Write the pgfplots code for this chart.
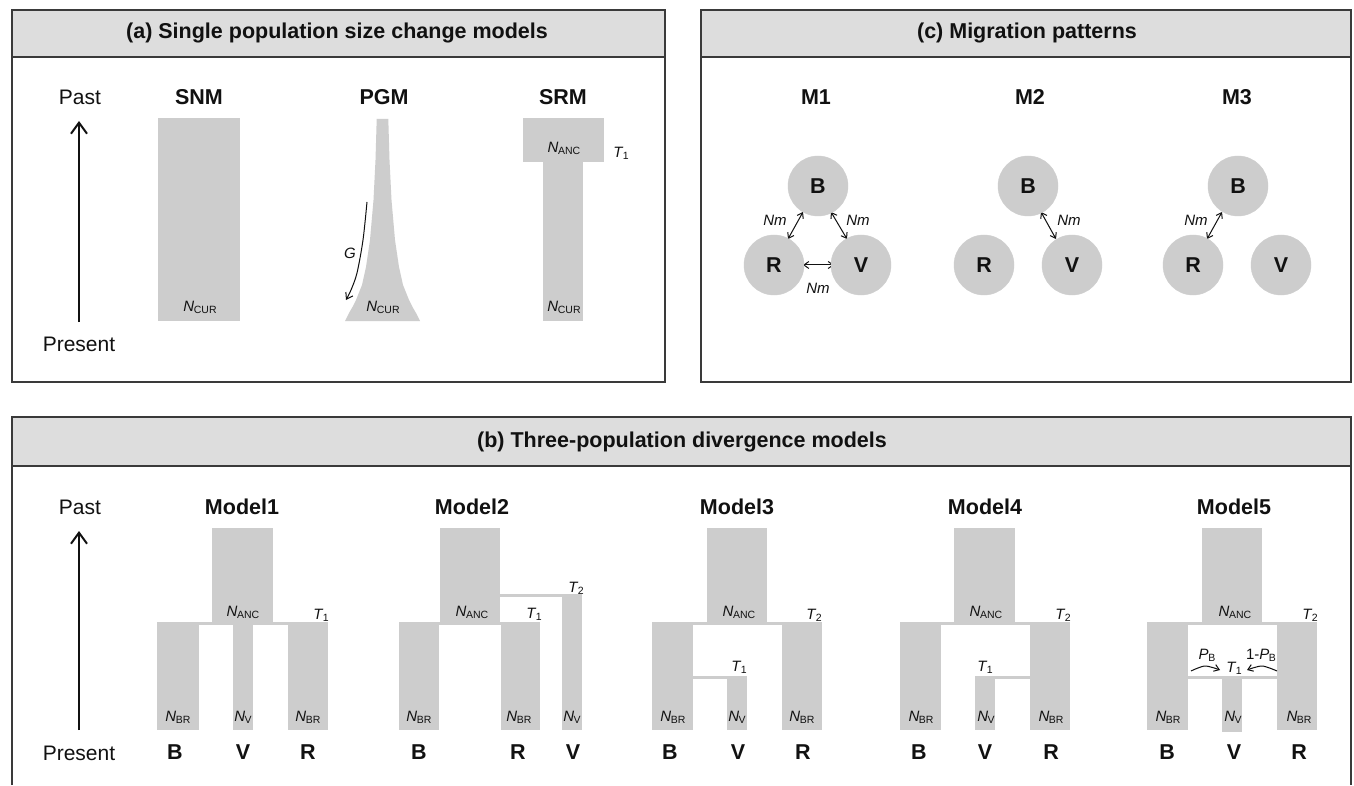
\documentclass[border=0pt]{standalone}
\usepackage{pgfplots}
\pgfplotsset{compat=1.18}
\usepackage{fontspec}
\setmainfont{Liberation Sans}
\usetikzlibrary{arrows.meta}

\definecolor{hdrgray}{HTML}{DDDDDD}
\definecolor{popgray}{HTML}{CDCDCD}
\definecolor{framecol}{HTML}{3A3A3A}
\definecolor{ink}{HTML}{111111}

\tikzset{
  hdr/.style={font=\fontsize{21.5}{21.5}\selectfont\bfseries, text=ink},
  big/.style={font=\fontsize{21}{21}\selectfont, text=ink},
  bigb/.style={font=\fontsize{21.5}{21.5}\selectfont\bfseries, text=ink},
  lab/.style={font=\fontsize{15}{15}\selectfont, text=ink, inner sep=0pt},
}
\pgfplotsset{mig/.style={{Straight Barb[length=5pt,width=7pt]}-{Straight Barb[length=5pt,width=7pt]}, line width=1pt, ink}}

% italic symbol with a small upright subscript
\newcommand{\Ns}[2]{\textit{#1}\kern-0.4pt\raisebox{-1.8pt}{\fontsize{10.5}{10.5}\selectfont #2}}
% one grey block of a population
\newcommand{\blk}[4]{\addplot[fill=popgray, draw=none] coordinates {(#1,#2) (#3,#2) (#3,#4) (#1,#4)} --cycle;}

\begin{document}
\begin{tikzpicture}
\begin{axis}[
  width=1354pt, height=784pt, scale only axis,
  xmin=0, xmax=1354, ymin=0, ymax=784, y dir=reverse,
  hide axis, clip=false,
]
% page background
\addplot[fill=white, draw=none] coordinates {(0,0) (1354,0) (1354,784) (0,784)} --cycle;

% ---------- panel frames and header bands ----------
\addplot[fill=hdrgray, draw=none] coordinates {(12,10) (665,10) (665,57) (12,57)} --cycle;
\addplot[fill=hdrgray, draw=none] coordinates {(701,10) (1351,10) (1351,57) (701,57)} --cycle;
\addplot[fill=hdrgray, draw=none] coordinates {(12,417) (1351,417) (1351,466) (12,466)} --cycle;
\addplot[draw=framecol, line width=1.5pt] coordinates {(12,10) (665,10) (665,382) (12,382)} --cycle;
\addplot[draw=framecol, line width=1.5pt] coordinates {(12,57) (665,57)};
\addplot[draw=framecol, line width=1.5pt] coordinates {(701,10) (1351,10) (1351,382) (701,382)} --cycle;
\addplot[draw=framecol, line width=1.5pt] coordinates {(701,57) (1351,57)};
\addplot[draw=framecol, line width=1.5pt] coordinates {(12,785) (12,417) (1351,417) (1351,785)};
\addplot[draw=framecol, line width=1.5pt] coordinates {(12,466) (1351,466)};

\node[hdr] at (337,33) {(a) Single population size change models};
\node[hdr] at (1027,33) {(c) Migration patterns};
\node[hdr] at (682,442) {(b) Three-population divergence models};

% ---------- (a) single population models ----------
\addplot[-{Straight Barb[length=11pt,width=16pt]}, line width=2pt, ink] coordinates {(79,322) (79,121)};
\node[big] at (80,97) {Past};
\node[big] at (79,344) {Present};

\node[bigb] at (199,97) {SNM};
\node[bigb] at (384,97) {PGM};
\node[bigb] at (563,97) {SRM};

% SNM
\blk{158}{118}{240}{321}
% PGM: exponential growth towards the present
\addplot[fill=popgray, draw=none] coordinates {
  (376.7,119) (375.5,160) (373.5,200) (370,240) (366,267) (362,285)
  (356,300) (352.5,307) (349,313) (347,317) (345,321)
  (420,321) (418,317) (416,313) (412.5,307) (409,300) (403,285)
  (399,267) (395,240) (391.5,200) (389.5,160) (388.3,119)} --cycle;
% SRM
\blk{523}{118}{604}{162}
\blk{543}{161}{583}{321}

\addplot[-{Straight Barb[length=6pt,width=8pt]}, line width=1pt, ink, smooth]
  coordinates {(367,202) (363,240) (357,273) (351,290) (346,300)};
\node[lab] at (350,253) {\textit{G}};

\node[lab] at (200,307) {\Ns{N}{CUR}};
\node[lab] at (383,307) {\Ns{N}{CUR}};
\node[lab] at (564,307) {\Ns{N}{CUR}};
\node[lab] at (564,148) {\Ns{N}{ANC}};
\node[lab] at (621,153) {\Ns{T}{1}};

% ---------- (c) migration patterns ----------
\node[bigb] at (816,97) {M1};
\node[bigb] at (1030,97) {M2};
\node[bigb] at (1237,97) {M3};

\addplot[popgray, only marks, mark=*, mark size=30pt,
  mark options={fill=popgray, draw=popgray},
  point meta=explicit symbolic, nodes near coords,
  every node near coord/.append style={bigb, anchor=center}]
  coordinates {(818,186) [B] (774,265) [R] (861,265) [V]
               (1028,186) [B] (984,265) [R] (1072,265) [V]
               (1238,186) [B] (1193,265) [R] (1281,265) [V]};

\addplot[mig] coordinates {(803,212) (788,239)};
\addplot[mig] coordinates {(831,212) (847,239)};
\addplot[mig] coordinates {(803,265) (834,265)};
\addplot[mig] coordinates {(1041,212) (1056,239)};
\addplot[mig] coordinates {(1222,212) (1207,239)};

\node[lab] at (775,220) {\textit{Nm}};
\node[lab] at (858,220) {\textit{Nm}};
\node[lab] at (818,288) {\textit{Nm}};
\node[lab] at (1069,220) {\textit{Nm}};
\node[lab] at (1196,220) {\textit{Nm}};

% ---------- (b) three-population divergence models ----------
\addplot[-{Straight Barb[length=11pt,width=16pt]}, line width=2pt, ink] coordinates {(79,730) (79,531)};
\node[big] at (80,507) {Past};
\node[big] at (79,753) {Present};

\node[bigb] at (242,507) {Model1};
\node[bigb] at (472,507) {Model2};
\node[bigb] at (737,507) {Model3};
\node[bigb] at (985,507) {Model4};
\node[bigb] at (1234,507) {Model5};

% Model1: simultaneous split
\blk{212}{528}{273}{625}
\blk{157}{622}{328}{625}
\blk{157}{622}{199}{730}
\blk{233}{622}{253}{730}
\blk{288}{622}{328}{730}
% Model2: V splits first
\blk{440}{528}{500}{625}
\blk{399}{622}{540}{625}
\blk{399}{622}{439}{730}
\blk{501}{622}{540}{730}
\blk{499}{594}{582}{597}
\blk{562}{594}{582}{730}
% Model3: V from B
\blk{707}{528}{767}{625}
\blk{652}{622}{822}{625}
\blk{652}{622}{693}{730}
\blk{782}{622}{822}{730}
\blk{692}{676}{747}{679}
\blk{727}{676}{747}{730}
% Model4: V from R
\blk{954}{528}{1015}{625}
\blk{900}{622}{1070}{625}
\blk{900}{622}{941}{730}
\blk{1030}{622}{1070}{730}
\blk{975}{676}{1031}{679}
\blk{975}{676}{995}{730}
% Model5: V from admixture of B and R
\blk{1202}{528}{1262}{625}
\blk{1147}{622}{1317}{625}
\blk{1147}{622}{1188}{730}
\blk{1277}{622}{1317}{730}
\blk{1187}{676}{1278}{679}
\blk{1222}{676}{1242}{732}

% split-time and size labels
\node[lab] at (243,612) {\Ns{N}{ANC}};
\node[lab] at (321,615) {\Ns{T}{1}};
\node[lab] at (472,612) {\Ns{N}{ANC}};
\node[lab] at (534,614) {\Ns{T}{1}};
\node[lab] at (576,588) {\Ns{T}{2}};
\node[lab] at (739,612) {\Ns{N}{ANC}};
\node[lab] at (814,615) {\Ns{T}{2}};
\node[lab] at (739,667) {\Ns{T}{1}};
\node[lab] at (986,612) {\Ns{N}{ANC}};
\node[lab] at (1063,615) {\Ns{T}{2}};
\node[lab] at (985,667) {\Ns{T}{1}};
\node[lab] at (1235,612) {\Ns{N}{ANC}};
\node[lab] at (1310,615) {\Ns{T}{2}};
\node[lab] at (1234,668) {\Ns{T}{1}};
\node[lab] at (1207,655) {\Ns{P}{B}};
\node[lab] at (1261,655) {1-\Ns{P}{B}};

\addplot[-{Straight Barb[length=5pt,width=7pt]}, line width=1pt, ink, smooth]
  coordinates {(1191,671) (1205,666) (1220,670)};
\addplot[-{Straight Barb[length=5pt,width=7pt]}, line width=1pt, ink, smooth]
  coordinates {(1277,671) (1262,666) (1247,670)};

% present-day sizes
\node[lab] at (178,717) {\Ns{N}{BR}};
\node[lab] at (243,717) {\Ns{N}{V}};
\node[lab] at (308,717) {\Ns{N}{BR}};
\node[lab] at (419,717) {\Ns{N}{BR}};
\node[lab] at (519,717) {\Ns{N}{BR}};
\node[lab] at (572,717) {\Ns{N}{V}};
\node[lab] at (673,717) {\Ns{N}{BR}};
\node[lab] at (737,717) {\Ns{N}{V}};
\node[lab] at (802,717) {\Ns{N}{BR}};
\node[lab] at (921,717) {\Ns{N}{BR}};
\node[lab] at (986,717) {\Ns{N}{V}};
\node[lab] at (1051,717) {\Ns{N}{BR}};
\node[lab] at (1168,717) {\Ns{N}{BR}};
\node[lab] at (1233,717) {\Ns{N}{V}};
\node[lab] at (1299,717) {\Ns{N}{BR}};

% population names
\node[bigb] at (175,752) {B};
\node[bigb] at (243,752) {V};
\node[bigb] at (308,752) {R};
\node[bigb] at (419,752) {B};
\node[bigb] at (518,752) {R};
\node[bigb] at (573,752) {V};
\node[bigb] at (670,752) {B};
\node[bigb] at (738,752) {V};
\node[bigb] at (803,752) {R};
\node[bigb] at (919,752) {B};
\node[bigb] at (985,752) {V};
\node[bigb] at (1051,752) {R};
\node[bigb] at (1167,752) {B};
\node[bigb] at (1234,752) {V};
\node[bigb] at (1299,752) {R};
\end{axis}
\end{tikzpicture}
\end{document}
